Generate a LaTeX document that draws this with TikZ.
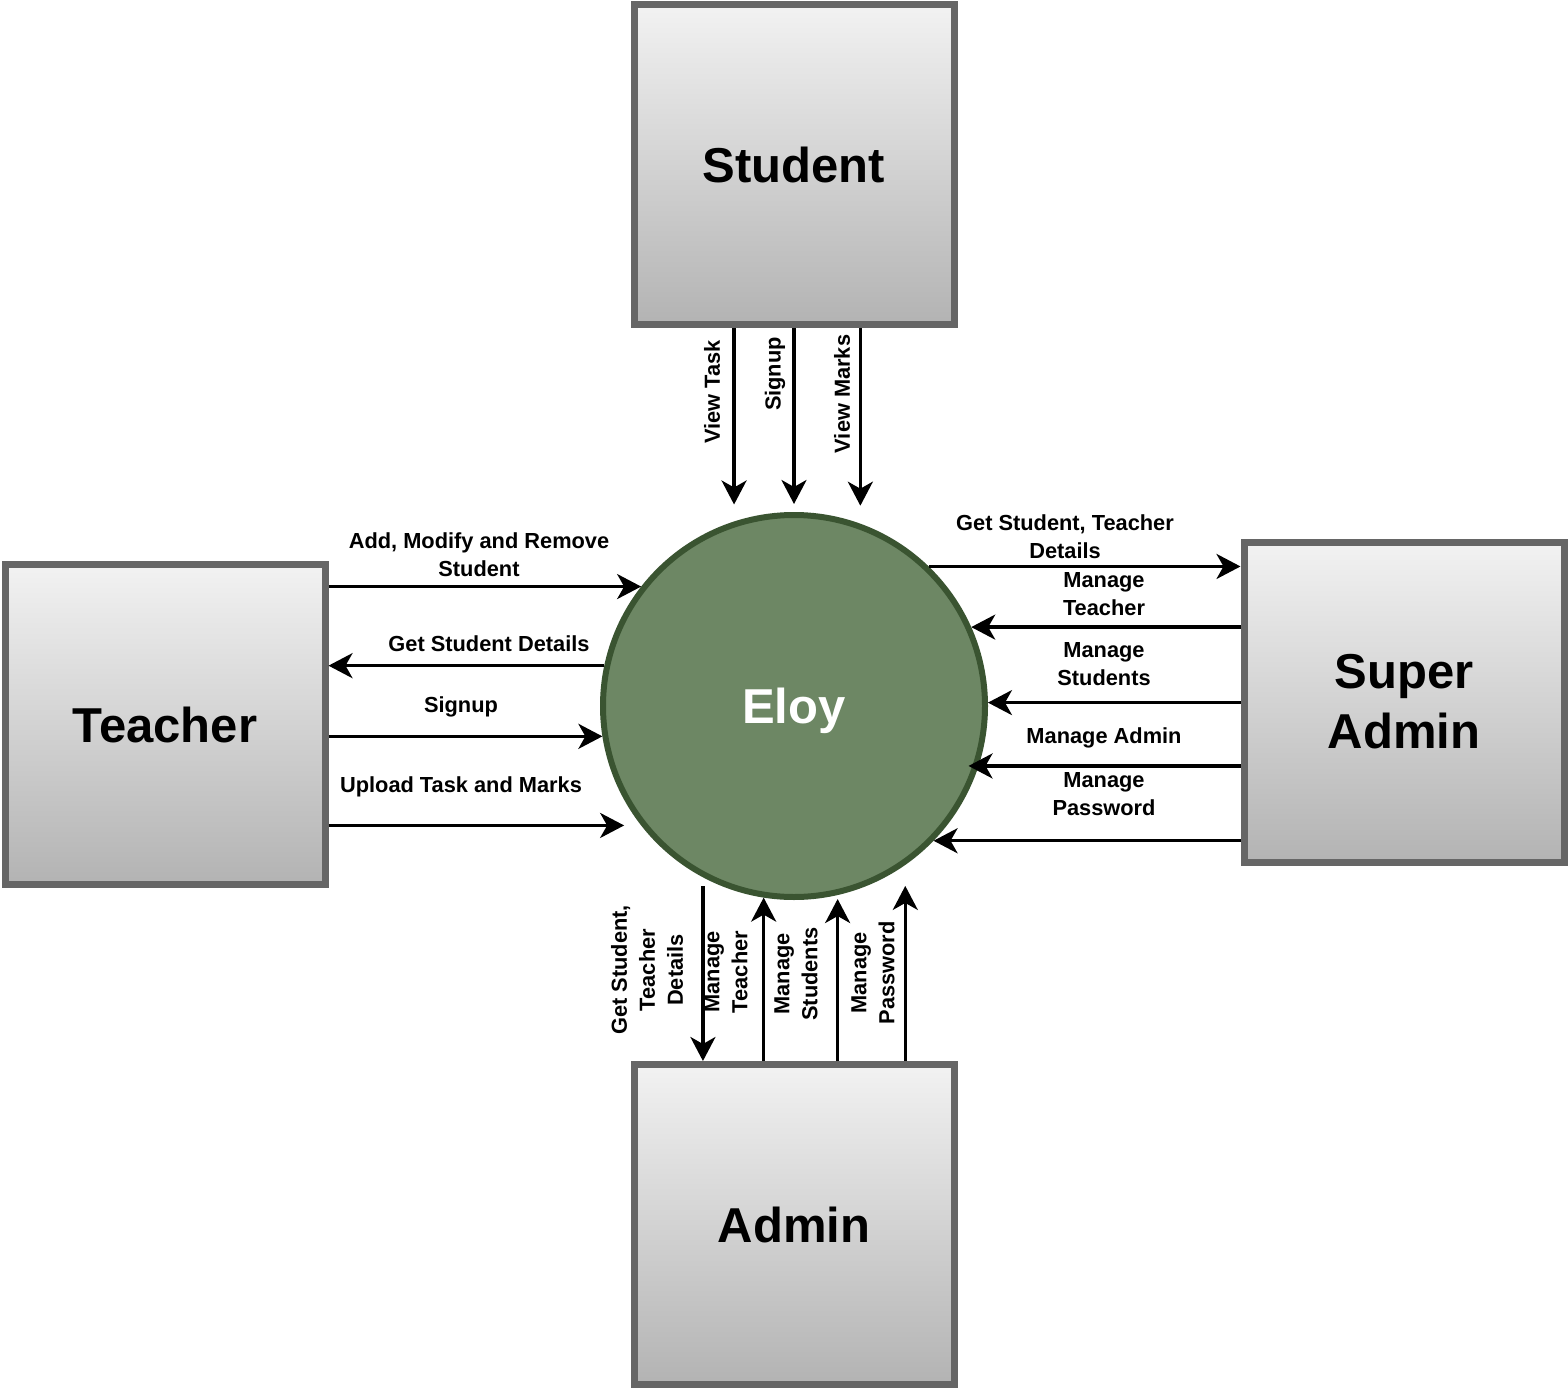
\documentclass[tikz,border=0pt]{standalone}
\usepackage{fontspec}
\setmainfont{Liberation Sans}
\usepackage{xcolor}
\usetikzlibrary{arrows.meta}
\definecolor{boxline}{HTML}{666666}
\definecolor{boxtop}{HTML}{F2F2F2}
\definecolor{boxbottom}{HTML}{B3B3B3}
\definecolor{eloyfill}{HTML}{6D8764}
\definecolor{eloyline}{HTML}{3A5431}

\begin{document}
\begin{tikzpicture}[
        x=1pt, y=-1pt,
        entity/.style={rectangle, draw=boxline, line width=7pt, top color=boxtop, bottom color=boxbottom, minimum width=320pt, minimum height=320pt, align=center, font=\fontsize{49}{60}\selectfont\bfseries},
        process/.style={circle, draw=eloyline, fill=eloyfill, line width=6pt, minimum size=382pt, inner sep=0pt, text=white, text depth=0pt, font=\fontsize{49}{60}\selectfont\bfseries},
        dataflow/.style={->, line width=3.3pt},
        lbl/.style={align=center, font=\fontsize{21.8}{28}\selectfont\bfseries},
        >={Stealth[length=24pt, width=25pt, inset=7pt]}
    ]
        \useasboundingbox (0,0) rectangle (1568,1388);

        \node[entity] (student) at (794,164.5) {Student};
        \node[entity] (teacher) at (165,724.5) {Teacher};
        \node[entity] (superadmin) at (1404,702) {Super\\Admin};
        \node[entity] (admin) at (794,1224.5) {Admin};
        \node[process] (eloy) at (794,706) {Eloy};

        \draw[dataflow, shorten >=17pt] (eloy.108 |- student.south) -- (eloy.108);
        \draw[dataflow, shorten >=8pt] (eloy.90 |- student.south) -- (eloy.90);
        \draw[dataflow, shorten >=18pt] (eloy.70 |- student.south) -- (eloy.70);
        \node[lbl, rotate=90] (lviewtask) at (712,392) {View Task};
        \node[lbl, rotate=90] (lstudentsignup) at (775,374) {Signup};
        \node[lbl, rotate=90] (lviewmarks) at (842,394) {View Marks};

        \draw[dataflow] (eloy.142 -| teacher.east) -- (eloy.142);
        \draw[dataflow] (eloy.168) -- (eloy.168 -| teacher.east);
        \draw[dataflow] (eloy.189 -| teacher.east) -- (eloy.189);
        \draw[dataflow, shorten >=17pt] (eloy.218 -| teacher.east) -- (eloy.218);
        \node[lbl] (laddstudent) at (479,555) {Add, Modify and Remove\\Student};
        \node[lbl] (lgetdetails) at (489,644) {Get Student Details};
        \node[lbl] (lteachersignup) at (461,707) {Signup};
        \node[lbl] (lupload) at (461,787) {Upload Task and Marks};

        \draw[dataflow] (eloy.46) -- (eloy.46 -| superadmin.west);
        \draw[dataflow] (eloy.24 -| superadmin.west) -- (eloy.24);
        \draw[dataflow] (eloy.1 -| superadmin.west) -- (eloy.1);
        \draw[dataflow, shorten >=-10pt] (eloy.342 -| superadmin.west) -- (eloy.342);
        \draw[dataflow] (eloy.316 -| superadmin.west) -- (eloy.316);
        \node[lbl] (lgetall) at (1065,537) {Get Student, Teacher\\Details};
        \node[lbl] (lsupteacher) at (1104,594) {Manage\\Teacher};
        \node[lbl] (lsupstudents) at (1104,664) {Manage\\Students};
        \node[lbl] (lsupadmin) at (1104,738) {Manage Admin};
        \node[lbl] (lsuppassword) at (1104,794) {Manage\\Password};

        \draw[dataflow, shorten <=9pt] (eloy.242) -- (eloy.242 |- admin.north);
        \draw[dataflow] (eloy.261 |- admin.north) -- (eloy.261);
        \draw[dataflow, shorten >=4pt] (eloy.283 |- admin.north) -- (eloy.283);
        \draw[dataflow, shorten >=21pt] (eloy.305 |- admin.north) -- (eloy.305);
        \node[lbl, rotate=90] (ladmingetall) at (647,970) {Get Student,\\Teacher\\Details};
        \node[lbl, rotate=90] (ladminteacher) at (726,972) {Manage\\Teacher};
        \node[lbl, rotate=90] (ladminstudents) at (796,974) {Manage\\Students};
        \node[lbl, rotate=90] (ladminpassword) at (873,973) {Manage\\Password};
    \end{tikzpicture}
\end{document}
